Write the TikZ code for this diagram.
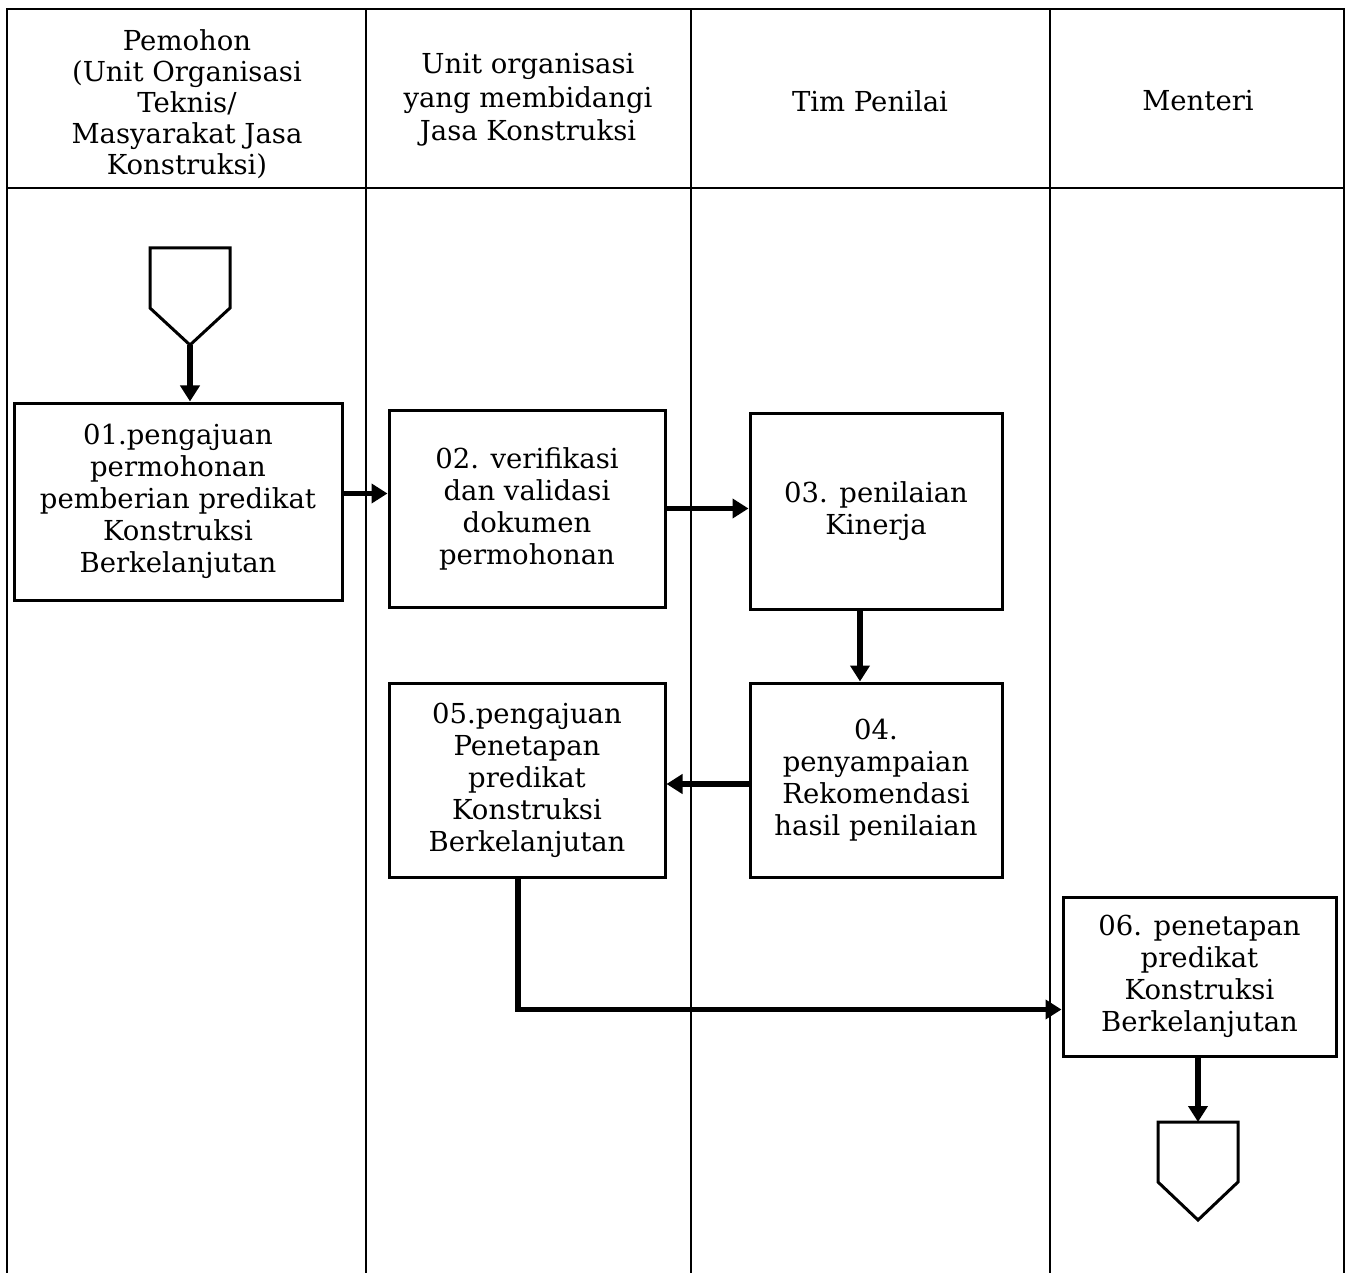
\documentclass[tikz,border=0pt]{standalone}
\usepackage{fontspec}
\setmainfont{DejaVu Serif}
\usetikzlibrary{arrows.meta}
\begin{document}
\begin{tikzpicture}[x=1pt,y=-1pt,
  txt/.style={font=\fontsize{27.5}{32}\selectfont},
  box/.style={draw, line width=3pt, align=center, inner sep=0pt, txt},
  hdr/.style={align=center, inner sep=0pt, font=\fontsize{27.5}{31}\selectfont},
  flow/.style={line width=5.5pt, -{Triangle[length=16pt,width=19pt]}},
  lane/.style={line width=2.4pt},
  conn/.style={line width=3pt, line join=miter}]
\useasboundingbox (0,0) rectangle (1350,1273);
% lanes
\draw[lane] (7,1273) -- (7,9) -- (1344,9) -- (1344,1273);
\draw[lane] (7,188) -- (1344,188);
\draw[lane] (366,9) -- (366,1273);
\draw[lane] (691,9) -- (691,1273);
\draw[lane] (1050,9) -- (1050,1273);
% headers
\node[hdr] (h1) at (187,104) {Pemohon\\(Unit Organisasi\\Teknis/\\Masyarakat Jasa\\Konstruksi)};
\node[hdr, font=\fontsize{27.5}{33.5}\selectfont] (h2) at (528,100) {Unit organisasi\\yang membidangi\\Jasa Konstruksi};
\node[hdr] (h3) at (870,101) {Tim Penilai};
\node[hdr] (h4) at (1198,101) {Menteri};
% start connector
\draw[conn] (150,248) -- (230,248) -- (230,308) -- (190,345) -- (150,308) -- cycle;
\coordinate (s1) at (190,345);
% boxes
\node[box, minimum width=328pt, minimum height=197pt] (b1) at (178,501.5)
  {01.pengajuan\\permohonan\\pemberian predikat\\Konstruksi\\Berkelanjutan};
\node[box, minimum width=276pt, minimum height=197pt] (b2) at (527,508.5)
  {02. verifikasi\\dan validasi\\dokumen\\permohonan};
\node[box, minimum width=252pt, minimum height=196pt] (b3) at (876,511)
  {03. penilaian\\Kinerja};
\node[box, minimum width=252pt, minimum height=194pt] (b4) at (876,780)
  {04.\\penyampaian\\Rekomendasi\\hasil penilaian};
\node[box, minimum width=276pt, minimum height=194pt] (b5) at (527,780)
  {05.pengajuan\\Penetapan\\predikat\\Konstruksi\\Berkelanjutan};
\node[box, minimum width=273pt, minimum height=159pt] (b6) at (1199.5,976.5)
  {06. penetapan\\predikat\\Konstruksi\\Berkelanjutan};
% end connector
\draw[conn] (1158,1122) -- (1238,1122) -- (1238,1182) -- (1198,1220) -- (1158,1182) -- cycle;
\coordinate (e1) at (1198,1122);
% arrows
\draw[flow] (s1) -- (b1.north -| s1);
\draw[flow] ([yshift=8pt]b1.east) -- ([yshift=8pt]b1.east -| b2.west);
\draw[flow] (b2.east) -- (b2.east -| b3.west);
\draw[flow] ([xshift=-16pt]b3.south) -- ([xshift=-16pt]b4.north);
\draw[flow] ([yshift=-4pt]b4.west) -- ([yshift=-4pt]b4.west -| b5.east);
\draw[flow] ([xshift=-9pt]b5.south) |- ([yshift=-33pt]b6.west);
\draw[flow] (b6.south -| e1) -- (e1);
\end{tikzpicture}
\end{document}
